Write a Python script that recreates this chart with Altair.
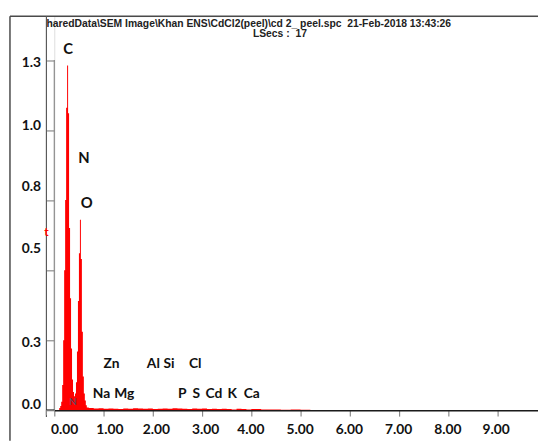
import altair as alt
import pandas as pd

# ---- spectrum (energy keV, counts scaled) ----
energy = [0.00, 0.10, 0.12, 0.14, 0.16, 0.18, 0.20, 0.22, 0.24, 0.26, 0.28, 0.30,
          0.32, 0.34, 0.36, 0.38, 0.40, 0.42, 0.44, 0.46, 0.48, 0.50, 0.52, 0.54,
          0.56, 0.58, 0.60, 0.62, 0.64, 0.66, 0.70,
          0.80, 0.90, 1.00, 1.10, 1.20, 1.30, 1.40, 1.50, 1.60, 1.70, 1.80, 1.90,
          2.00, 2.10, 2.20, 2.30, 2.40, 2.50, 2.60, 2.70, 2.80, 2.90, 3.00, 3.10,
          3.20, 3.30, 3.40, 3.50, 3.60, 3.70, 3.80, 3.90, 4.00,
          4.20, 4.40, 4.60, 4.80, 5.00, 5.20]
counts = [0.000, 0.008, 0.015, 0.030, 0.090, 0.250, 0.500, 0.750, 1.080, 1.230, 1.060, 0.650,
          0.400, 0.220, 0.110, 0.065, 0.050, 0.060, 0.100, 0.210, 0.390, 0.560, 0.680, 0.540,
          0.280, 0.120, 0.060, 0.035, 0.018, 0.010, 0.008,
          0.006, 0.007, 0.005, 0.006, 0.005, 0.004, 0.006, 0.005, 0.007, 0.006, 0.005, 0.006,
          0.004, 0.005, 0.006, 0.005, 0.007, 0.006, 0.005, 0.004, 0.006, 0.005, 0.006, 0.004,
          0.005, 0.004, 0.005, 0.004, 0.003, 0.005, 0.004, 0.003, 0.004,
          0.003, 0.003, 0.002, 0.003, 0.002, 0.000]

# ---- element labels ----
el_names = ["C", "N", "O", "Zn", "Al", "Si", "Cl", "Na", "Mg", "P", "S", "Cd", "K", "Ca"]
el_x = [0.28, 0.60, 0.66, 1.16, 2.01, 2.33, 2.86, 0.96, 1.42, 2.60, 2.88, 3.24, 3.61, 4.01]
el_y = [1.29, 0.90, 0.74, 0.165, 0.165, 0.165, 0.165, 0.056, 0.056, 0.056, 0.056, 0.056, 0.056, 0.056]
el_size = [15, 15, 15, 14, 14, 14, 14, 14, 14, 14, 14, 14, 14, 14]

small_names = ["N"]
small_x = [0.38]
small_y = [0.03]

x_ticks = [0, 1, 2, 3, 4, 5, 6, 7, 8, 9]
y_ticks = [0, 0.25, 0.5, 0.75, 1.0, 1.25]

NB = "\u00a0"
header1 = ("haredData\\SEM Image\\Khan ENS\\CdCl2(peel)\\cd 2_" + NB + "peel.spc" + NB + NB
           + "21-Feb-2018 13:43:26")
header2 = "LSecs :" + NB + NB + "17"

FONT = "Lato"
W, H = 491, 400

spec_df = pd.DataFrame({"e": energy, "c": counts})
el_df = pd.DataFrame({"name": el_names, "x": el_x, "y": el_y, "s": el_size})
sm_df = pd.DataFrame({"name": small_names, "x": small_x, "y": small_y})

xscale = alt.Scale(domain=[0, 9.82], nice=False)
yscale = alt.Scale(domain=[0, 1.4065], nice=False)

# label placement quirks of the original instrument printout
y_label_offset = {"condition": [
    {"test": "datum.value == 1.25", "value": 3},
    {"test": "datum.value == 1", "value": -5},
    {"test": "datum.value == 0.75", "value": -14},
    {"test": "datum.value == 0.5", "value": -22},
    {"test": "datum.value == 0.25", "value": 2},
    {"test": "datum.value == 0", "value": -6},
], "value": 0}
x_label_offset = {"condition": [
    {"test": "datum.value == 0", "value": 10},
    {"test": "datum.value == 1", "value": 6},
    {"test": "datum.value == 2", "value": 3},
    {"test": "datum.value == 3", "value": 3},
    {"test": "datum.value == 9", "value": -2},
], "value": -1}

spectrum = alt.Chart(spec_df).mark_area(
    interpolate="step-after", color="#ff0000", opacity=1
).encode(
    x=alt.X("e:Q", scale=xscale, axis=alt.Axis(
        values=x_ticks, format=".2f", title=None, grid=False, labelFlush=False,
        domainColor="#1a1a1a", domainWidth=1.6, tickColor="#8a8a8a", tickSize=6,
        tickWidth=1.2, labelFont=FONT, labelFontSize=14, labelFontWeight="bold",
        labelColor="#111111", labelPadding=7, labelOffset=x_label_offset, zindex=1)),
    y=alt.Y("c:Q", scale=yscale, axis=alt.Axis(
        values=y_ticks, format=".1f", title=None, grid=False, domain=False,
        labelFlush=False,
        tickColor="#8a8a8a", tickSize=8, tickWidth=1.2, labelFont=FONT,
        labelFontSize=14, labelFontWeight="bold", labelColor="#111111",
        labelPadding=6, labelOffset=y_label_offset, zindex=1)),
)

yaxis_line = alt.Chart(pd.DataFrame({"a": [0]})).mark_rule(
    color="#8a8a8a", strokeWidth=1.2
).encode(x=alt.datum(0, scale=xscale), y=alt.datum(0, scale=yscale),
         y2=alt.datum(1.25))

labels = alt.Chart(el_df).mark_text(
    font=FONT, fontWeight="bold", color="#111111", align="center", baseline="middle"
).encode(
    x=alt.X("x:Q", scale=xscale), y=alt.Y("y:Q", scale=yscale),
    text="name:N", size=alt.Size("s:Q", scale=None, legend=None),
)

small = alt.Chart(sm_df).mark_text(
    font=FONT, fontSize=10, color="#44506e", align="center", baseline="middle"
).encode(x=alt.X("x:Q", scale=xscale), y=alt.Y("y:Q", scale=yscale), text="name:N")


def rule(x, x2, y, y2, color="#4a4a4a", w=1.5):
    return alt.Chart(pd.DataFrame({"a": [0]})).mark_rule(
        color=color, strokeWidth=w, clip=False
    ).encode(x=alt.value(x), x2=alt.value(x2), y=alt.value(y), y2=alt.value(y2))


frame = [
    rule(-45, W, 0, 0),            # top border
    rule(-45, -45, 0, 431),        # outer left border
    rule(-8, -8, 0, 407, "#5a5a5a", 1.2),  # inner left border
    rule(-8, 0, 400, 400, "#1a1a1a", 1.6),  # x-axis extension
    rule(-8, -8, 400, 405, "#8a8a8a", 1.2),
]

head1 = alt.Chart(pd.DataFrame({"t": [header1]})).mark_text(
    font="Liberation Sans", fontSize=10.5, fontWeight="bold", color="#222222",
    align="left", baseline="alphabetic", clip=False
).encode(x=alt.value(-8), y=alt.value(11), text="t:N")

head2 = alt.Chart(pd.DataFrame({"t": [header2]})).mark_text(
    font="Liberation Sans", fontSize=10.5, fontWeight="bold", color="#222222",
    align="center", baseline="alphabetic", clip=False
).encode(x=alt.value(229), y=alt.value(21), text="t:N")

red_t = alt.Chart(pd.DataFrame({"t": ["t"]})).mark_text(
    font=FONT, fontSize=12, fontWeight="bold", color="#ff0000", align="center",
    baseline="middle", clip=False
).encode(x=alt.value(-8), y=alt.value(219), text="t:N")

chart = alt.layer(
    spectrum, yaxis_line, labels, small, *frame, head1, head2, red_t
).properties(
    width=W, height=H,
    autosize=alt.AutoSizeParams(type="none"),
    padding={"left": 47, "top": 5, "right": 0, "bottom": 31},
).configure_view(stroke=None).configure(background="white")

chart.save("out.html", embed_options={"renderer": "svg", "actions": False})
